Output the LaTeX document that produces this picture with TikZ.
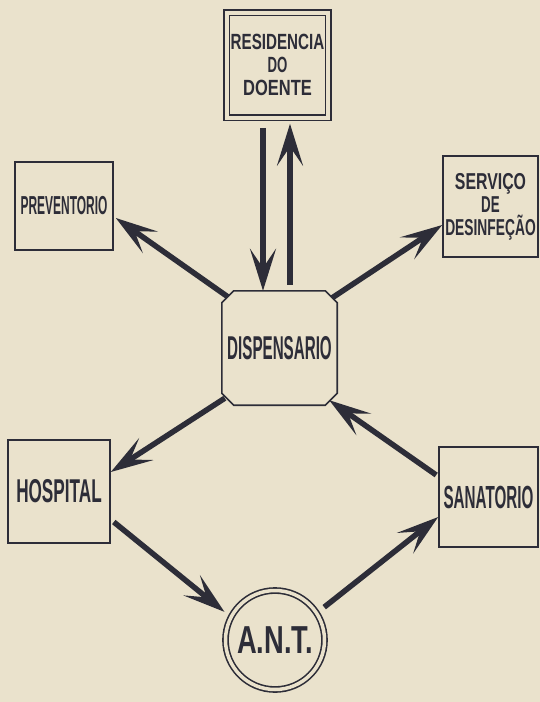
\documentclass[tikz,border=0pt]{standalone}
\usepackage{fontspec}
\setmainfont{Liberation Sans}
\usepackage{graphicx}
\usetikzlibrary{arrows.meta}
\definecolor{paper}{RGB}{234,226,204}
\definecolor{ink}{RGB}{45,45,56}
\newcommand{\sx}[2]{\scalebox{#1}[1]{#2}}
\begin{document}
\begin{tikzpicture}[x=1pt,y=-1pt,
  box/.style={draw=ink, line width=1.6pt, inner sep=0pt, text=ink},
  arr/.style={draw=ink, line width=5.5pt, -{Stealth[length=42pt,width=26pt,inset=19pt]}},
]
\fill[paper] (0,0) rectangle (540,702);
\useasboundingbox (0,0) rectangle (540,702);

\node[box, double=paper, double distance=4pt, line width=1.5pt, minimum width=101.5pt, minimum height=105pt,
  align=center, font=\bfseries\fontsize{22}{23}\selectfont] (res) at (277.5,65)
  {\sx{0.69}{RESIDENCIA}\\\sx{0.6}{DO}\\\sx{0.75}{DOENTE}};

\node[inner sep=0pt, minimum width=115pt, minimum height=114pt, text=ink,
  font=\bfseries\fontsize{33}{33}\selectfont] (disp) at (279.5,348) {\sx{0.46}{DISPENSARIO}};
\draw[ink, line width=1.6pt] ([xshift=12pt]disp.north west) -- ([xshift=-12pt]disp.north east)
  -- ([yshift=-12pt]disp.north east) -- ([yshift=12pt]disp.south east)
  -- ([xshift=-12pt]disp.south east) -- ([xshift=12pt]disp.south west)
  -- ([yshift=12pt]disp.south west) -- ([yshift=-12pt]disp.north west) -- cycle;

\node[box, minimum width=98pt, minimum height=88pt, font=\bfseries\fontsize{26}{26}\selectfont] (prev) at (64,206)
  {\sx{0.46}{PREVENTORIO}};
\node[box, minimum width=95pt, minimum height=101pt, align=center, font=\bfseries\fontsize{23}{23}\selectfont] (serv) at (490.5,206.5)
  {\sx{0.69}{SERVIÇO}\\\sx{0.58}{DE}\\\sx{0.6}{DESINFEÇÃO}};
\node[box, minimum width=102pt, minimum height=103pt, font=\bfseries\fontsize{33}{33}\selectfont] (hosp) at (59,491.5)
  {\sx{0.52}{HOSPITAL}};
\node[box, minimum width=99pt, minimum height=100pt, font=\bfseries\fontsize{32}{32}\selectfont] (sana) at (488.5,497)
  {\sx{0.475}{SANATORIO}};
\node[circle, draw=ink, double=paper, double distance=3.5pt, line width=1.6pt, minimum size=99pt, inner sep=0pt,
  text=ink, font=\bfseries\fontsize{39}{39}\selectfont] (ant) at (275,640) {\sx{0.7}{A.N.T.}};

\draw[arr] ([xshift=-14.5pt,yshift=-9.5pt]res.south) -- ([xshift=-16.5pt]disp.north);
\draw[arr] ([xshift=10.5pt,yshift=6pt]disp.north) -- ([xshift=12.5pt,yshift=-5.5pt]res.south);
\draw[arr] ([xshift=6pt,yshift=-6pt]disp.north west) -- ([xshift=2pt,yshift=-12pt]prev.east);
\draw[arr] ([xshift=-5pt,yshift=-7pt]disp.north east) -- ([yshift=-18.5pt]serv.west);
\draw[arr] ([xshift=3pt,yshift=7pt]disp.south west) -- ([yshift=19.5pt]hosp.east);
\draw[arr] ([xshift=-2pt,yshift=22pt]sana.west) -- ([xshift=-8pt,yshift=5pt]disp.south east);
\draw[arr] ([xshift=3pt,yshift=-30.5pt]hosp.east) -- ([shift={(-7pt,3pt)}]ant.150);
\draw[arr] ([shift={(8pt,4pt)}]ant.35) -- ([yshift=-20pt]sana.west);
\end{tikzpicture}
\end{document}
